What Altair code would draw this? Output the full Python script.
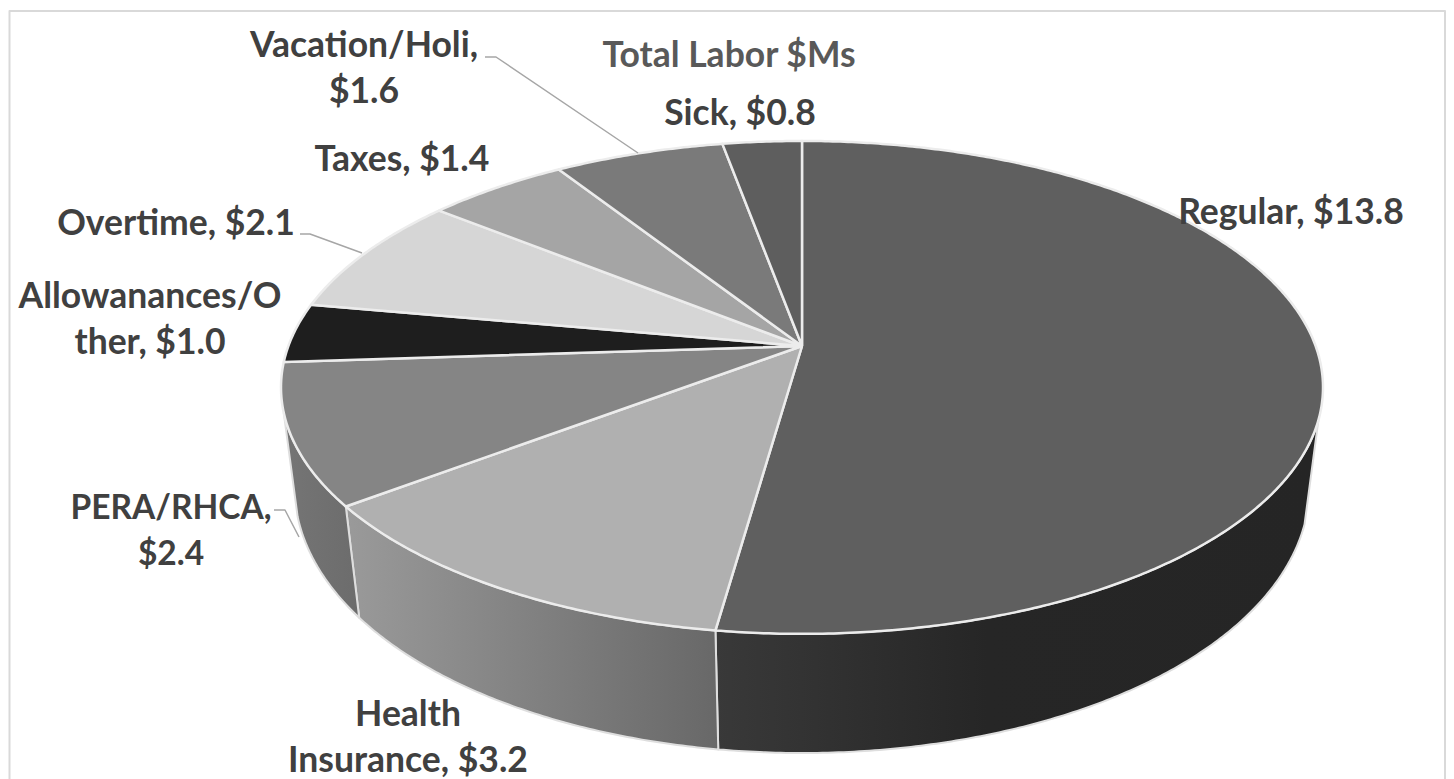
import math
import altair as alt
import pandas as pd

categories = ["Regular", "Health Insurance", "PERA/RHCA", "Allowanances/Other",
              "Overtime", "Taxes", "Vacation/Holi", "Sick"]
values = [13.74, 3.28, 2.43, 1.02, 2.08, 1.36, 1.63, 0.76]
label_text = ["Regular, $13.8", "Health\nInsurance, $3.2", "PERA/RHCA,\n$2.4",
              "Allowanances/O\nther, $1.0", "Overtime, $2.1", "Taxes, $1.4",
              "Vacation/Holi,\n$1.6", "Sick, $0.8"]
title_text = "Total Labor $Ms"

# ---- styling and layout (page pixels)
top_colors = ["#5f5f5f", "#b0b0b0", "#858585", "#1e1e1e", "#d6d6d6", "#a5a5a5", "#7a7a7a", "#5e5e5e"]
side_gradients = {0: [(0, "#393939"), (0.45, "#262626"), (1, "#252525")],
                  1: [(0, "#9a9a9a"), (1, "#686868")],
                  2: [(0, "#757575"), (1, "#6c6c6c")]}
label_x = [1291, 408, 171, 150, 176, 402, 364, 740]
label_y = [213, 715, 509, 297, 224, 160, 46, 114]
label_size = [35.5, 35.5, 33.5, 35.5, 35.5, 35.5, 35.5, 35.5]
leaders = [[(485, 57), (496, 57), (638, 153)],
           [(300, 234), (310, 234), (362, 253)],
           [(274, 510), (285, 510), (299, 537)]]
W, H = 1438, 771
CX, CY, A, B, K = 802, 346, 513.6, 239.5, 0.168
X_SCALE = alt.Scale(domain=[8, 8 + W], range=[0, W], nice=False, zero=False)
Y_SCALE = alt.Scale(domain=[8, 8 + H], range=[0, H], nice=False, zero=False)


def top_pt(deg):
    r = math.radians(deg)
    u, v = math.sin(r), math.cos(r)
    w = 1 + K * v
    return CX + A * u / w, CY - B * v / w


def bottom_pt(deg):
    x, y = top_pt(deg)
    v = math.cos(math.radians(deg))
    t = 0.0245 - 0.008 * v
    return x + t * (CX - x), y + t * (4300 - y)


def arc(fn, a, b):
    n = max(2, int(abs(b - a) * 2))
    return [fn(a + (b - a) * i / n) for i in range(n + 1)]


def poly(points, fill, stroke, sw):
    df = pd.DataFrame(points, columns=["x", "y"])
    df["o"] = range(len(df))
    return alt.Chart(df).mark_line(fill=fill, stroke=stroke, strokeWidth=sw, strokeJoin="round",
                                   clip=False).encode(
        x=alt.X("x:Q", scale=X_SCALE, axis=None),
        y=alt.Y("y:Q", scale=Y_SCALE, axis=None),
        order="o:Q")


def grad(stops):
    return alt.Gradient(gradient="linear", x1=0, y1=0, x2=1, y2=0,
                        stops=[alt.GradientStop(offset=o, color=c) for o, c in stops])


total = sum(values)
edges = [0.0]
for val in values:
    edges.append(edges[-1] + 360 * val / total)

layers = []
# frame
layers.append(poly([(9.5, 779), (9.5, 11), (1445, 11), (1445, 779)], "transparent", "#d9d9d9", 2))
# sides
side_ranges = {0: (107.1, edges[1]), 1: (edges[1], edges[2]), 2: (edges[2], 254.5)}
for i in (0, 1, 2):
    a, b = side_ranges[i]
    pts = arc(top_pt, a, b) + arc(bottom_pt, b, a)
    pts.append(pts[0])
    layers.append(poly(pts, grad(side_gradients[i]), "#dedede", 2))
# top face
for i in range(len(values)):
    pts = [(CX, CY)] + arc(top_pt, edges[i], edges[i + 1]) + [(CX, CY)]
    layers.append(poly(pts, top_colors[i], "#ececec", 2.5))
# leaders
for lead in leaders:
    layers.append(poly(lead, "transparent", "#a6a6a6", 1.5))
# labels
labels = pd.DataFrame({"t": label_text, "x": label_x, "y": label_y, "s": label_size, "cat": categories})
layers.append(alt.Chart(labels).mark_text(font="Lato", fontWeight="bold", color="#404040",
                                          lineBreak="\n", lineHeight=46, align="center", baseline="middle").encode(
    x=alt.X("x:Q", scale=X_SCALE, axis=None),
    y=alt.Y("y:Q", scale=Y_SCALE, axis=None),
    size=alt.Size("s:Q", scale=None, legend=None),
    text="t:N"))

chart = alt.layer(*layers).properties(
    width=W, height=H, padding=0,
    autosize=alt.AutoSizeParams(type="none"),
    title=alt.TitleParams(title_text, font="Lato", fontWeight="bold", fontSize=35.5, color="#595959",
                          anchor="middle", offset=-66, dx=2),
).configure_view(stroke=None)

chart.save("out.html", embed_options={"renderer": "svg", "actions": False})
